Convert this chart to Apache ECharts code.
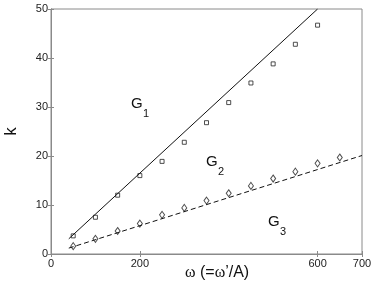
<!DOCTYPE html>
<html><head><meta charset="utf-8">
<script src="https://cdn.jsdelivr.net/npm/echarts@6/dist/echarts.min.js"></script>
<style>html,body{margin:0;padding:0;background:#fff}#c{width:374px;height:288px}</style>
</head><body><div id="c"></div>
<script>
var omegaVals = [50,100,150,200,250,300,350,400,450,500,550,600];
var squareK = [3.7,7.5,12.0,16.0,18.9,22.8,26.8,30.9,34.9,38.8,42.8,46.7];
var omegaDiam = [50,100,150,200,250,300,350,400,450,500,550,600,650];
var diamondK = [1.6,3.1,4.7,6.2,8.0,9.4,10.9,12.4,13.9,15.4,16.8,18.5,19.7];
var solidLine = [[40,3.1],[600,50]];
var dashedLine = [[40,1.2],[700,20.1]];
var xTicks = [0,200,600,700];
var yTicks = [0,10,20,30,40,50];
var regionLabels = ['G','G','G'];
var regionSubs = ['1','2','3'];

var chart = echarts.init(document.getElementById('c'), null, {renderer:'canvas'});
var axisCol = '#8a8a8a';
var font = 'Liberation Sans, Arial, sans-serif';
function pairs(xs, ys){ return xs.map(function(x,i){return [x, ys[i]];}); }
var gPos = [[131,96],[206,154],[268,214]];
var graphics = [];
regionLabels.forEach(function(g,i){
  graphics.push({type:'text',left:gPos[i][0],top:gPos[i][1],style:{text:g,fontSize:15,fontFamily:font,fill:'#111'}});
  graphics.push({type:'text',left:gPos[i][0]+12,top:gPos[i][1]+12,style:{text:regionSubs[i],fontSize:11,fontFamily:font,fill:'#111'}});
});
graphics.push({type:'text',left:185,top:265,style:{rich:{w:{fontSize:16,fontFamily:'Liberation Serif, serif',fill:'#111'},t:{fontSize:16,fontFamily:font,fill:'#111'}},text:'{w|ω}{t| (=}{w|ω}{t|\u2019/A)}'}});
var option = {
  animation:false,
  grid:{left:51,right:12,top:9,bottom:34,outerBoundsMode:'none',containLabel:false,show:true,borderColor:axisCol,borderWidth:1,backgroundColor:'transparent'},
  xAxis:[{
    type:'value',min:0,max:700,position:'bottom',
    axisLine:{show:true,lineStyle:{color:axisCol,width:1}},
    axisTick:{show:true,inside:true,length:3,customValues:xTicks,lineStyle:{color:axisCol}},
    axisLabel:{customValues:xTicks,color:'#222',fontFamily:font,fontSize:11,margin:4},
    splitLine:{show:false}
  },{
    type:'value',min:0,max:700,position:'top',
    axisLine:{show:true,lineStyle:{color:axisCol,width:1}},
    axisTick:{show:true,inside:true,length:3,customValues:xTicks,lineStyle:{color:axisCol}},
    axisLabel:{show:false},splitLine:{show:false}
  }],
  yAxis:[{
    type:'value',min:0,max:50,interval:10,position:'left',
    axisLine:{show:true,lineStyle:{color:axisCol,width:1}},
    axisTick:{show:true,inside:true,length:3,lineStyle:{color:axisCol}},
    axisLabel:{color:'#222',fontFamily:font,fontSize:11,margin:3},
    splitLine:{show:false},
    name:'k',nameLocation:'middle',nameGap:31,nameRotate:90,
    nameTextStyle:{color:'#111',fontFamily:font,fontSize:17}
  },{
    type:'value',min:0,max:50,interval:10,position:'right',
    axisLine:{show:true,lineStyle:{color:axisCol,width:1}},
    axisTick:{show:true,inside:true,length:3,lineStyle:{color:axisCol}},
    axisLabel:{show:false},splitLine:{show:false}
  }],
  series:[
    {type:'line',data:solidLine,symbol:'none',lineStyle:{color:'#111',width:1},silent:true},
    {type:'line',data:dashedLine,symbol:'none',lineStyle:{color:'#111',width:1,type:[5,3]},silent:true},
    {type:'scatter',data:pairs(omegaVals,squareK),symbol:'rect',symbolSize:4,
      itemStyle:{color:'#fff',borderColor:'#222',borderWidth:1}},
    {type:'scatter',data:pairs(omegaDiam,diamondK),symbol:'diamond',symbolSize:[5,7],
      itemStyle:{color:'#fff',borderColor:'#222',borderWidth:1}},
    {type:'line',xAxisIndex:1,yAxisIndex:1,data:[],silent:true}
  ],
  graphic:graphics
};
chart.setOption(option);
</script></body></html>
